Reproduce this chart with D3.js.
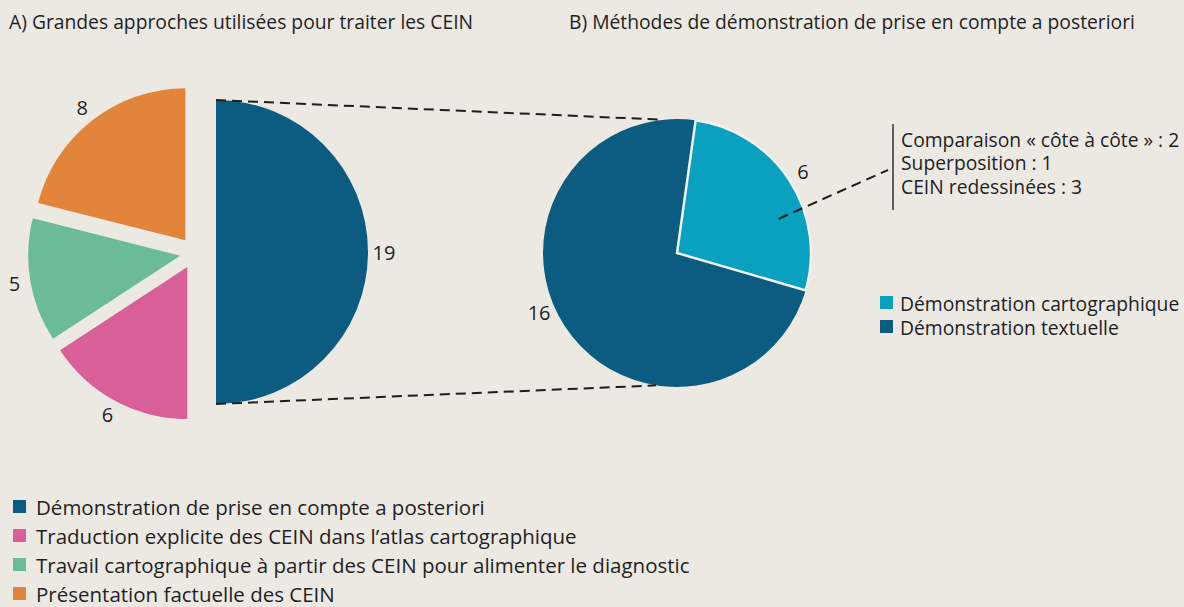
<!DOCTYPE html>
<html>
<head>
<meta charset="utf-8">
<script src="https://cdn.jsdelivr.net/npm/d3@7"></script>
<style>
    body { margin: 0; background: #ece9e3; }
    text { font-family: "Open Sans", sans-serif; fill: #1f1f1f; }
</style>
</head>
<body>
<svg id="chart" width="1184" height="607"></svg>
<script>
// A) approaches (same order as the legend)
const approachLabels = [
    "Démonstration de prise en compte a posteriori",
    "Traduction explicite des CEIN dans l’atlas cartographique",
    "Travail cartographique à partir des CEIN pour alimenter le diagnostic",
    "Présentation factuelle des CEIN"
];
const approachValues = [19, 6, 5, 8];
const approachColors = ["#0b5c80", "#d85f98", "#6cbb97", "#e2843a"];

// B) demonstration methods
const methodLabels = ["Démonstration cartographique", "Démonstration textuelle"];
const methodValues = [6, 16];
const methodColors = ["#0aa1c1", "#0b5c80"];

const detailLabels = ["Comparaison « côte à côte » : 2", "Superposition : 1", "CEIN redessinées : 3"];

const titleA = "A) Grandes approches utilisées pour traiter les CEIN";
const titleB = "B) Méthodes de démonstration de prise en compte a posteriori";

const svg = d3.select("#chart");
const fontSize = 19.3;

// Titles
svg.append("text").attr("x", 9).attr("y", 29).style("font-size", fontSize + "px").text(titleA);
svg.append("text").attr("x", 569).attr("y", 29).style("font-size", fontSize + "px").text(titleB);

// ---- Pie A ----
const cA = [216, 252];
const rA = 152;
const pieA = d3.pie().sort(null).value(d => d)(approachValues);
const arcA = d3.arc().innerRadius(0).outerRadius(rA);

// the small slices are pulled away to the left
function offsetA(d, i) {
    if (i == 0) return [0, 0];
    const mid = (d.startAngle + d.endAngle) / 2;
    return [-22 + 14 * Math.sin(mid), 1 - 16 * Math.cos(mid)];
}

const gA = svg.append("g").attr("transform", `translate(${cA[0]},${cA[1]})`);
const slicesA = gA.selectAll("g.slice")
    .data(pieA)
    .enter()
    .append("g")
        .attr("class", "slice")
        .attr("transform", (d, i) => `translate(${offsetA(d, i)})`);

slicesA.append("path")
    .attr("d", arcA)
    .attr("fill", (d, i) => approachColors[i]);

slicesA.append("text")
    .attr("transform", d => {
        const mid = (d.startAngle + d.endAngle) / 2;
        return `translate(${(rA + 16) * Math.sin(mid)},${-(rA + 16) * Math.cos(mid)})`;
    })
    .attr("text-anchor", "middle")
    .attr("dominant-baseline", "central")
    .style("font-size", "20px")
    .text(d => d.data);

// ---- Pie B ----
const cB = [677, 253];
const rB = 134;
const startB = 8 * Math.PI / 180;
const pieB = d3.pie().sort(null).value(d => d)
    .startAngle(startB).endAngle(startB + 2 * Math.PI)(methodValues);
const arcB = d3.arc().innerRadius(0).outerRadius(rB);

const gB = svg.append("g").attr("transform", `translate(${cB[0]},${cB[1]})`);
// draw the big slice first so the small one's outline sits on top
const orderB = [1, 0];
orderB.forEach(i => {
    const d = pieB[i];
    gB.append("path")
        .attr("d", arcB(d))
        .attr("fill", methodColors[i])
        .attr("stroke", i == 0 ? "#f2f1ed" : "none")
        .attr("stroke-width", 2.5)
        .attr("stroke-linejoin", "miter");
});

const labelAngleB = [0, 0.17];
gB.selectAll("text.val")
    .data(pieB)
    .enter()
    .append("text")
        .attr("class", "val")
        .attr("transform", (d, i) => {
            const mid = (d.startAngle + d.endAngle) / 2 + labelAngleB[i];
            return `translate(${(rB + 16) * Math.sin(mid)},${-(rB + 16) * Math.cos(mid)})`;
        })
        .attr("text-anchor", "middle")
        .attr("dominant-baseline", "central")
        .style("font-size", "20px")
        .text(d => d.data);

// ---- Dashed zoom lines from slice A0 to pie B ----
function onCircle(c, r, deg) {
    const a = deg * Math.PI / 180;
    return [c[0] + r * Math.sin(a), c[1] - r * Math.cos(a)];
}
const zoomLines = [
    [onCircle(cA, rA, pieA[0].startAngle * 180 / Math.PI), onCircle(cB, rB, -6)],
    [onCircle(cA, rA, pieA[0].endAngle * 180 / Math.PI), onCircle(cB, rB, 189)]
];
svg.selectAll("line.zoom")
    .data(zoomLines)
    .enter()
    .append("line")
        .attr("class", "zoom")
        .attr("x1", d => d[0][0]).attr("y1", d => d[0][1])
        .attr("x2", d => d[1][0]).attr("y2", d => d[1][1])
        .attr("stroke", "#1e1e1e")
        .attr("stroke-width", 2)
        .attr("stroke-dasharray", "10,6");

// ---- Detail of the cartographic demonstrations ----
const midB0 = (pieB[0].startAngle + pieB[0].endAngle) / 2;
const pIn = [cB[0] + rB * 0.8 * Math.sin(midB0 + 0.25), cB[1] - rB * 0.8 * Math.cos(midB0 + 0.25)];
svg.append("line")
    .attr("x1", pIn[0]).attr("y1", pIn[1])
    .attr("x2", 888).attr("y2", 170)
    .attr("stroke", "#1e1e1e")
    .attr("stroke-width", 2)
    .attr("stroke-dasharray", "10,6");

svg.append("line")
    .attr("x1", 893).attr("x2", 893)
    .attr("y1", 124).attr("y2", 210)
    .attr("stroke", "#333")
    .attr("stroke-width", 1.5);

svg.selectAll("text.detail")
    .data(detailLabels)
    .enter()
    .append("text")
        .attr("class", "detail")
        .attr("x", 901)
        .attr("y", (d, i) => 139 + i * 23.5)
        .attr("dominant-baseline", "central")
        .style("font-size", fontSize + "px")
        .text(d => d);

// ---- Legend B ----
const legB = svg.append("g").attr("transform", "translate(880,303)");
methodLabels.forEach((lab, i) => {
    legB.append("rect")
        .attr("x", 0).attr("y", i * 24 - 7)
        .attr("width", 13).attr("height", 13)
        .attr("fill", methodColors[i]);
    legB.append("text")
        .attr("x", 20).attr("y", i * 24)
        .attr("dominant-baseline", "central")
        .style("font-size", fontSize + "px")
        .text(lab);
});

// ---- Legend A ----
const legA = svg.append("g").attr("transform", "translate(13,507)");
approachLabels.forEach((lab, i) => {
    legA.append("rect")
        .attr("x", 0).attr("y", i * 29 - 7)
        .attr("width", 13).attr("height", 13)
        .attr("fill", approachColors[i]);
    legA.append("text")
        .attr("x", 23).attr("y", i * 29)
        .attr("dominant-baseline", "central")
        .style("font-size", "20.5px")
        .text(lab);
});
</script>
</body>
</html>
